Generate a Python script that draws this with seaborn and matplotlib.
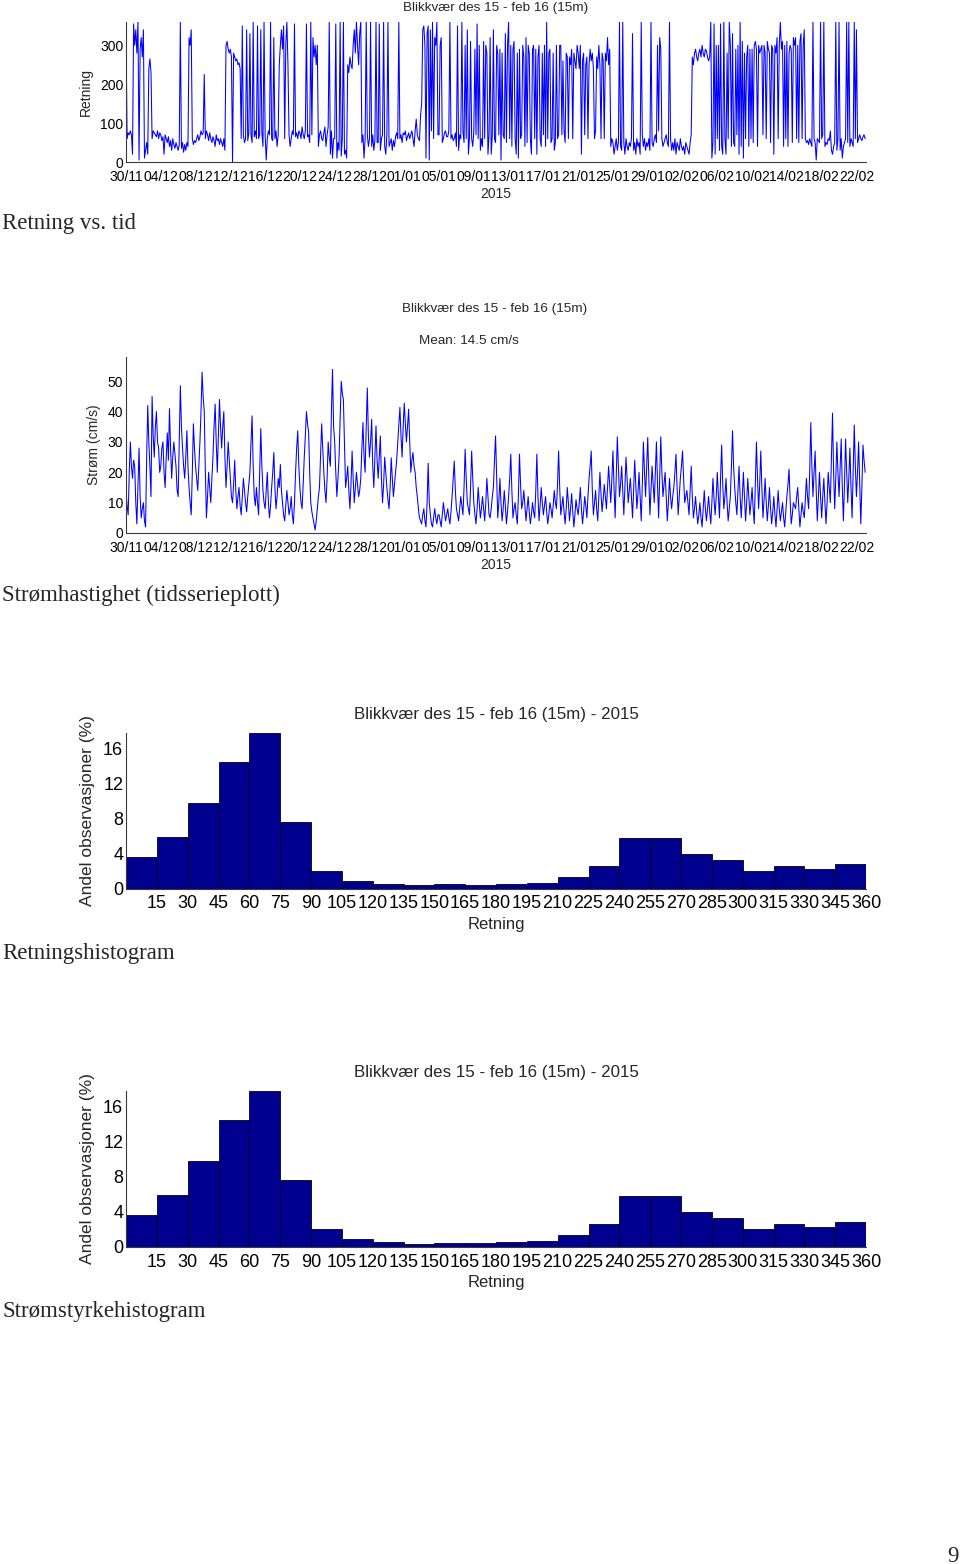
import numpy as np
import pandas as pd
import matplotlib
matplotlib.use("Agg")
import matplotlib.pyplot as plt
import seaborn as sns

# ---------------- data ----------------
# hand-read samples, 8 per day, starting 30/11 00:00
step_days = 0.125

direction = [
    340, 60, 75, 70, 80, 70, 20, 355,
    300, 340, 280, 360, 5, 290, 320, 270,
    340, 10, 30, 50, 20, 240, 265, 230,
    60, 80, 75, 70, 65, 80, 60, 75,
    70, 55, 65, 20, 70, 60, 50, 65,
    40, 55, 30, 60, 45, 35, 50, 40,
    30, 45, 360, 35, 50, 25, 45, 30,
    50, 40, 320, 300, 340, 60, 45, 55,
    50, 60, 70, 55, 65, 80, 70, 75,
    225, 60, 80, 70, 55, 75, 60, 50,
    65, 55, 40, 70, 55, 60, 45, 60,
    50, 40, 60, 30, 300, 310, 290, 280,
    290, 270, 0, 280, 270, 260, 265, 250,
    255, 240, 60, 350, 70, 50, 60, 340,
    55, 75, 330, 70, 50, 360, 65, 80,
    60, 350, 60, 70, 340, 75, 40, 360,
    70, 5, 60, 80, 70, 360, 60, 55,
    320, 60, 80, 40, 70, 250, 300, 340,
    290, 350, 60, 300, 360, 250, 70, 40,
    60, 80, 70, 355, 65, 75, 60, 80,
    75, 60, 90, 70, 60, 80, 355, 65,
    70, 50, 360, 70, 320, 270, 300, 250,
    300, 40, 70, 80, 60, 55, 75, 90,
    40, 70, 90, 360, 20, 80, 10, 60,
    60, 355, 10, 50, 30, 360, 15, 60,
    360, 20, 30, 10, 250, 230, 270, 250,
    240, 300, 340, 280, 360, 300, 250, 330,
    360, 50, 70, 10, 60, 360, 70, 40,
    60, 360, 40, 70, 30, 55, 360, 50,
    50, 355, 30, 60, 70, 360, 40, 20,
    70, 360, 40, 50, 60, 30, 55, 40,
    65, 75, 60, 360, 60, 70, 50, 75,
    70, 80, 55, 65, 75, 60, 70, 80,
    60, 40, 80, 110, 70, 60, 55, 120,
    150, 340, 350, 300, 10, 330, 350, 5,
    340, 80, 360, 60, 320, 300, 360, 70,
    70, 300, 320, 50, 60, 75, 80, 65,
    65, 80, 360, 60, 70, 55, 60, 75,
    40, 350, 30, 70, 60, 360, 80, 50,
    300, 60, 340, 20, 60, 310, 60, 40,
    80, 290, 70, 355, 60, 300, 30, 60,
    40, 310, 60, 300, 280, 20, 70, 320,
    20, 70, 340, 60, 50, 300, 280, 70,
    290, 5, 280, 70, 60, 330, 50, 300,
    360, 60, 300, 40, 290, 310, 60, 20,
    280, 10, 290, 60, 70, 300, 270, 40,
    320, 50, 300, 280, 60, 20, 290, 300,
    60, 290, 20, 270, 300, 60, 40, 280,
    70, 300, 40, 360, 60, 280, 290, 50,
    60, 280, 30, 50, 300, 60, 70, 300,
    300, 70, 260, 80, 50, 280, 270, 60,
    270, 250, 290, 60, 280, 260, 240, 300,
    280, 240, 300, 20, 260, 280, 70, 250,
    270, 60, 250, 290, 260, 280, 240, 60,
    80, 270, 240, 300, 250, 60, 280, 260,
    60, 280, 260, 320, 250, 290, 40, 60,
    50, 20, 40, 60, 30, 50, 360, 40,
    30, 360, 50, 20, 60, 40, 30, 50,
    40, 60, 330, 30, 50, 20, 60, 40,
    50, 20, 360, 70, 40, 60, 30, 50,
    40, 60, 30, 360, 50, 40, 60, 70,
    50, 300, 80, 320, 290, 60, 40, 50,
    60, 70, 50, 40, 360, 60, 30, 50,
    30, 60, 20, 50, 40, 30, 60, 40,
    30, 40, 20, 50, 40, 30, 20, 50,
    70, 270, 250, 280, 290, 270, 260, 280,
    290, 270, 300, 280, 270, 290, 285, 270,
    260, 270, 360, 10, 50, 355, 20, 300,
    60, 300, 30, 355, 40, 20, 360, 60,
    20, 280, 60, 360, 300, 40, 330, 50,
    40, 290, 70, 300, 20, 360, 40, 310,
    10, 280, 60, 270, 300, 40, 290, 60,
    290, 50, 300, 310, 290, 40, 300, 280,
    290, 300, 70, 300, 280, 60, 310, 290,
    280, 50, 300, 290, 20, 300, 280, 320,
    60, 300, 360, 290, 310, 40, 300, 60,
    310, 40, 280, 300, 290, 50, 320, 300,
    320, 60, 300, 50, 310, 330, 60, 300,
    340, 60, 50, 55, 45, 60, 50, 40,
    360, 60, 50, 5, 60, 55, 50, 360,
    60, 70, 360, 40, 50, 45, 60, 55,
    80, 30, 20, 40, 50, 360, 30, 60,
    360, 30, 60, 10, 40, 50, 60, 360,
    50, 360, 40, 60, 50, 40, 360, 60,
    340, 50, 60, 70, 60, 55, 65, 70,
    60,
]

speed = [
    14, 9, 6, 20, 30, 22, 18, 24,
    22, 10, 3, 15, 28, 12, 5, 8,
    10, 4, 2, 25, 42, 30, 22, 12,
    45, 32, 25, 35, 40, 30, 28, 20,
    22, 28, 30, 20, 15, 25, 33, 24,
    41, 28, 18, 25, 30, 26, 22, 14,
    12, 30, 48.5, 35, 28, 22, 18, 25,
    33.7, 22, 15, 10, 6, 20, 36, 28,
    22, 18, 14, 22, 30, 40, 53, 45,
    40, 20, 5, 12, 20, 15, 10, 18,
    25, 35, 42.5, 30, 20, 32, 44, 35,
    28, 35, 40, 25, 15, 22, 30, 24,
    18, 12, 10, 16, 24, 14, 8, 12,
    15, 9, 6, 12, 18, 14, 10, 7,
    12, 16, 20, 30, 38.6, 22, 12, 9,
    15, 10, 6, 20, 34.4, 22, 14, 10,
    8, 14, 20, 10, 5, 9, 15, 20,
    26.5, 15, 8, 12, 18, 15, 22.6, 14,
    10, 6, 4, 9, 14, 10, 6, 8,
    12, 6, 3, 10, 20, 28, 33.7, 22,
    15, 10, 8, 16, 25, 32, 40, 36,
    33.3, 20, 10, 7, 5, 3, 1, 4,
    8, 12, 15, 26, 36, 28, 20, 14,
    10, 18, 30, 25, 22, 40, 53.9, 35,
    30, 20, 12, 18, 25, 38, 50, 46,
    44, 30, 15, 18, 22, 14, 8, 16,
    27, 18, 10, 15, 20, 16, 12, 14,
    18, 28, 36.4, 25, 20, 35, 47.8, 32,
    25, 30, 37.5, 22, 15, 25, 35.3, 24,
    18, 25, 32, 18, 10, 16, 25, 20,
    15, 11, 8, 15, 24.8, 18, 12, 16,
    20, 24, 30, 36, 41.4, 32, 25, 35,
    42.8, 36, 30, 35, 40.8, 30, 20, 24,
    26.5, 22, 20, 15, 12, 8, 5, 4,
    3, 6, 8, 4, 2, 10, 23, 10,
    6, 3, 2, 5, 8, 5, 3, 6,
    6, 4, 2, 6, 10, 7, 4, 6,
    8, 5, 3, 7, 12, 18, 23.7, 14,
    8, 6, 4, 8, 12, 9, 6, 15,
    27.6, 18, 10, 8, 6, 15, 27, 18,
    10, 6, 3, 8, 15, 10, 5, 8,
    12, 8, 4, 10, 18, 12, 6, 5,
    8, 12, 15, 24, 32, 18, 5, 10,
    18, 10, 4, 8, 14, 9, 3, 7,
    12, 18, 26, 14, 5, 8, 10, 6,
    3, 12, 26, 16, 8, 10, 14, 9,
    4, 8, 12, 7, 3, 6, 10, 7,
    5, 14, 26, 12, 4, 9, 15, 10,
    6, 9, 12, 7, 3, 6, 10, 8,
    5, 9, 14, 10, 8, 16, 27, 15,
    6, 9, 12, 7, 3, 8, 15, 10,
    4, 8, 13, 7, 2, 6, 11, 8,
    6, 10, 15, 8, 3, 7, 12, 9,
    5, 12, 18, 22, 27, 14, 6, 10,
    14, 8, 4, 12, 20, 13, 7, 11,
    16, 12, 8, 15, 22, 16, 10, 18,
    27, 15, 5, 18, 31.7, 22, 12, 16,
    22, 14, 6, 15, 25, 18, 10, 14,
    18, 12, 5, 14, 24, 16, 8, 13,
    20, 12, 4, 16, 30, 20, 12, 22,
    31.5, 18, 6, 14, 22, 16, 10, 20,
    30, 16, 5, 18, 31.7, 20, 12, 16,
    20, 12, 4, 10, 18, 12, 8, 12,
    15, 20, 26, 15, 6, 12, 18, 22,
    27, 18, 10, 12, 14, 10, 6, 14,
    22, 12, 5, 8, 12, 7, 3, 6,
    10, 5, 2, 8, 14, 8, 4, 8,
    12, 7, 3, 10, 18, 11, 6, 12,
    20, 12, 5, 18, 29, 16, 8, 12,
    18, 10, 4, 8, 12, 22, 33.7, 22,
    15, 10, 6, 14, 22, 12, 5, 12,
    20, 12, 4, 10, 18, 12, 6, 10,
    15, 8, 3, 16, 30, 18, 8, 16,
    27, 15, 5, 11, 18, 10, 4, 9,
    15, 8, 3, 7, 12, 6, 2, 8,
    14, 8, 4, 7, 10, 5, 2, 7,
    12, 16, 21, 11, 3, 6, 10, 9,
    8, 12, 15, 8, 2, 6, 10, 7,
    5, 11, 18, 12, 8, 20, 36.4, 22,
    12, 20, 27, 14, 4, 12, 20, 12,
    5, 12, 18, 10, 3, 10, 20, 15,
    10, 25, 39.5, 20, 8, 18, 30, 20,
    12, 22, 31, 15, 4, 16, 31, 20,
    10, 18, 28, 15, 5, 20, 35.6, 22,
    12, 20, 30, 16, 3, 15, 29, 24,
    20,
]

date_labels = ["30/11", "04/12", "08/12", "12/12", "16/12", "20/12", "24/12",
               "28/12", "01/01", "05/01", "09/01", "13/01", "17/01", "21/01",
               "25/01", "29/01", "02/02", "06/02", "10/02", "14/02", "18/02",
               "22/02"]

bin_edges = list(range(0, 361, 15))
dir_hist_pct = [3.65, 5.93, 9.81, 14.49, 17.72, 7.60, 2.02, 0.91, 0.57, 0.38,
                0.49, 0.42, 0.49, 0.65, 1.29, 2.62, 5.82, 5.82, 3.92, 3.31,
                2.02, 2.55, 2.28, 2.85]
speed_hist_pct = [3.62, 5.87, 9.79, 14.48, 17.71, 7.58, 1.98, 0.88, 0.53, 0.34,
                  0.46, 0.42, 0.49, 0.65, 1.29, 2.62, 5.82, 5.82, 3.92, 3.31,
                  2.02, 2.55, 2.28, 2.85]

ts_title = "Blikkvær des 15 - feb 16 (15m)"
hist_title = "Blikkvær des 15 - feb 16 (15m) - 2015"
mean_text = "Mean: 14.5 cm/s"
captions = ["Retning vs. tid", "Strømhastighet (tidsserieplott)",
            "Retningshistogram", "Strømstyrkehistogram"]

# ---------------- style ----------------
sns.set_theme(style="white")
plt.rcParams["font.family"] = ["Liberation Sans", "DejaVu Sans"]

W, H = 960, 1564
fig = plt.figure(figsize=(W / 100, H / 100), dpi=100)
fig.patch.set_facecolor("white")

AX_COL = "#3a3a3a"
LINE_COL = "#0000ff"
BAR_COL = "#00008f"


def px_axes(left, top, right, bottom):
    return fig.add_axes([left / W, 1 - bottom / H, (right - left) / W, (bottom - top) / H])


def style_axes(ax, fs):
    for s in ["top", "right"]:
        ax.spines[s].set_visible(False)
    for s in ["left", "bottom"]:
        ax.spines[s].set_color(AX_COL)
        ax.spines[s].set_linewidth(0.8)
    ax.tick_params(direction="in", length=4, width=0.7, color=AX_COL,
                   labelsize=fs, pad=2, labelcolor="black")
    ax.set_facecolor("white")


def time_axes(ax, values, ylim, yticks, ylabel):
    df = pd.DataFrame({"day": np.arange(len(values)) * step_days, "val": values})
    sns.lineplot(data=df, x="day", y="val", ax=ax, color=LINE_COL,
                 linewidth=0.75, estimator=None)
    style_axes(ax, 10)
    ax.set_xlim(0, 85.1)
    ax.set_ylim(*ylim)
    ax.set_yticks(yticks)
    ax.set_xticks(np.arange(0, 85, 4))
    ax.set_xticklabels(date_labels)
    ax.set_xticks(np.arange(2, 85, 4), minor=True)
    ax.tick_params(axis="x", which="minor", direction="in", length=4,
                   width=0.7, color=AX_COL)
    ax.tick_params(axis="x", pad=6)
    ax.set_xlabel("2015", fontsize=10, labelpad=2)
    ax.set_ylabel(ylabel, fontsize=10, labelpad=5)


# ---- direction time series ----
ax1 = px_axes(126, 22, 866, 162)
time_axes(ax1, direction, (0, 360), [0, 100, 200, 300], "Retning")
ax1.set_title(ts_title, fontsize=9.7, pad=8)

# ---- speed time series ----
ax2 = px_axes(126, 357, 866, 533)
time_axes(ax2, speed, (0, 58), [0, 10, 20, 30, 40, 50], "Strøm (cm/s)")
fig.text(495 / W, 1 - 309 / H, ts_title, ha="center", va="center", fontsize=9.7)
fig.text(469 / W, 1 - 341 / H, mean_text, ha="center", va="center", fontsize=9.7)


# ---- histograms ----
def hist_axes(top, bottom, pct):
    ax = px_axes(126, top, 866, bottom)
    centers = [(bin_edges[i] + bin_edges[i + 1]) / 2 for i in range(len(pct))]
    sns.histplot(x=centers, weights=pct, bins=bin_edges, ax=ax, stat="count",
                 color=BAR_COL, alpha=1.0, edgecolor="#000022", linewidth=0.6)
    style_axes(ax, 13)
    ax.set_xlim(0, 360)
    ax.set_ylim(0, 17.75)
    ax.set_yticks([0, 4, 8, 12, 16])
    ax.set_xticks(bin_edges[1:])
    ax.tick_params(axis="x", pad=5)
    ax.set_xlabel("Retning", fontsize=12, labelpad=3)
    ax.set_ylabel("Andel observasjoner (%)", fontsize=12.5, labelpad=6)
    ax.set_title(hist_title, fontsize=12.2, pad=10)
    return ax


hist_axes(733, 888.5, dir_hist_pct)
hist_axes(1091, 1246.7, speed_hist_pct)

# ---- captions (document text) ----
serif = ["Liberation Serif", "DejaVu Serif"]
cap_y = [223, 595, 953, 1311]
for txt, y in zip(captions, cap_y):
    fig.text(2 / W, 1 - y / H, txt, ha="left", va="center", fontsize=16.5,
             family=serif)
fig.text(953 / W, 1 - 1556 / H, "9", ha="center", va="center", fontsize=16.5,
         family=serif)

fig.savefig("out.png", dpi=100, facecolor="white")
